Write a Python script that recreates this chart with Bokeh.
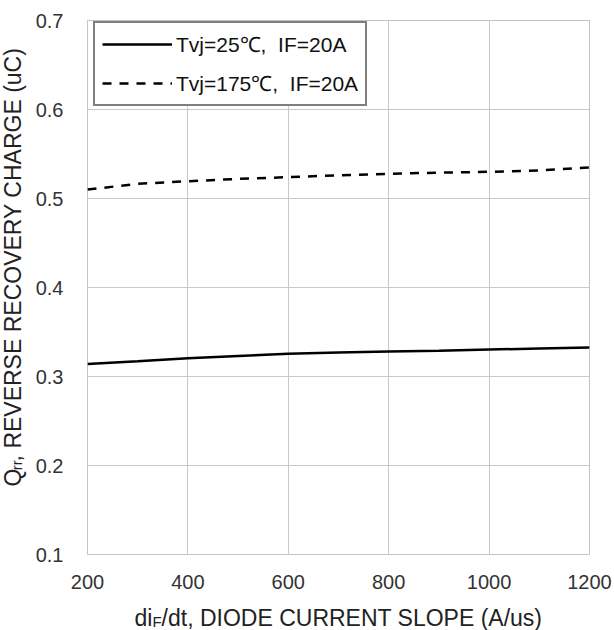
import math
from bokeh.plotting import figure
from bokeh.layouts import row, column
from bokeh.models import Range1d, FixedTicker, Label, Legend, LegendItem, PrintfTickFormatter
from bokeh.embed import file_html
from bokeh.resources import INLINE

# ---- data ----
di_dt = [200, 300, 400, 500, 600, 700, 800, 900, 1000, 1100, 1200]
qrr_25 = [0.314, 0.317, 0.3205, 0.323, 0.3255, 0.327, 0.328, 0.329, 0.3303, 0.3315, 0.3326]
qrr_175 = [0.510, 0.5165, 0.5194, 0.522, 0.524, 0.526, 0.5278, 0.529, 0.530, 0.5315, 0.535]
label_25 = "Tvj=25\u2103,  IF=20A"
label_175 = "Tvj=175\u2103,  IF=20A"
x_ticks = [200, 400, 600, 800, 1000, 1200]
y_ticks = [0.1, 0.2, 0.3, 0.4, 0.5, 0.6, 0.7]
X_MIN, X_MAX = 200, 1200
Y_MIN, Y_MAX = 0.1, 0.7

FONT = "Liberation Sans"
YW = 30      # width of the strip holding the y title
XH = 34      # height of the strip holding the x title
W, H = 614, 630

p = figure(width=W - YW, height=H - XH, output_backend="svg", toolbar_location=None,
           x_range=Range1d(X_MIN, X_MAX), y_range=Range1d(Y_MIN, Y_MAX),
           min_border_left=57, min_border_right=25, min_border_top=20, min_border_bottom=42)
p.background_fill_color = "white"
p.border_fill_color = "white"
p.outline_line_color = "#c4c4c4"
p.outline_line_width = 1

for ax in (p.xaxis[0], p.yaxis[0]):
    ax.axis_line_color = None
    ax.major_tick_line_color = None
    ax.minor_tick_line_color = None
    ax.major_label_text_font = FONT
    ax.major_label_text_font_size = "20px"
    ax.major_label_text_color = "#333333"
p.xaxis.ticker = FixedTicker(ticks=x_ticks)
p.yaxis.ticker = FixedTicker(ticks=y_ticks)
p.yaxis.formatter = PrintfTickFormatter(format="%.1f")
p.yaxis.major_label_standoff = 18
p.xaxis.major_label_standoff = 14

p.xgrid.ticker = FixedTicker(ticks=x_ticks)
p.ygrid.ticker = FixedTicker(ticks=y_ticks)
p.grid.grid_line_color = "#c8c8c8"
p.grid.grid_line_width = 1

r1 = p.line(di_dt, qrr_25, line_color="black", line_width=2.5)
r2 = p.line(di_dt, qrr_175, line_color="black", line_width=2.5, line_dash="9 8")

legend = Legend(items=[LegendItem(label=label_25, renderers=[r1]),
                       LegendItem(label=label_175, renderers=[r2])],
                location=(6, 448))
legend.border_line_color = "black"
legend.border_line_width = 2
legend.background_fill_color = "white"
legend.background_fill_alpha = 1
legend.label_text_font = FONT
legend.label_text_font_size = "21px"
legend.label_text_color = "#111111"
legend.glyph_width = 70
legend.glyph_height = 20
legend.label_height = 20
legend.label_standoff = 4
legend.spacing = 11
legend.padding = 7
legend.margin = 0
p.add_layout(legend, "center")


def strip(width, height):
    f = figure(width=width, height=height, output_backend="svg", toolbar_location=None,
               x_range=Range1d(0, width), y_range=Range1d(0, height),
               x_axis_location=None, y_axis_location=None, min_border=0)
    f.grid.visible = False
    f.outline_line_color = None
    f.background_fill_color = "white"
    f.border_fill_color = "white"
    return f


TS = 23
SS = 15
TCOL = "#222222"


def lab(f, text, x, y, size, angle=0.0):
    f.add_layout(Label(x=x, y=y, text=text, angle=angle,
                       text_font=FONT, text_font_size=f"{size}px", text_color=TCOL,
                       text_baseline="alphabetic", text_align="left"))


# x title strip (full width): di_F/dt, DIODE CURRENT SLOPE (A/us)
fx = strip(W, XH)
w1 = 0.778 * TS
ws = 0.611 * SS
w2 = 16.559 * TS
total = w1 + ws + w2
xc = (87 + 589) / 2
x0 = xc - total / 2
yb = 13
lab(fx, "di", x0, yb, TS)
lab(fx, "F", x0 + w1, yb - 4, SS)
lab(fx, "/dt, DIODE CURRENT SLOPE (A/us)", x0 + w1 + ws, yb, TS)

# y title strip: Q_rr, REVERSE RECOVERY CHARGE (uC)
fy = strip(YW, H - XH)
v1 = 0.778 * TS
vs = 0.666 * SS
v2 = 18.003 * TS
vtot = v1 + vs + v2
yc = (H - XH) - (20 + 554) / 2
y0 = yc - vtot / 2 - 12
xb = 12
ang = math.pi / 2
lab(fy, "Q", xb, y0, TS, ang)
lab(fy, "rr", xb + 4, y0 + v1, SS, ang)
lab(fy, ", REVERSE RECOVERY CHARGE (uC)", xb, y0 + v1 + vs, TS, ang)

layout = column(row(fy, p, spacing=0), fx, spacing=0)
open("out.html", "w").write(file_html(layout, INLINE))
